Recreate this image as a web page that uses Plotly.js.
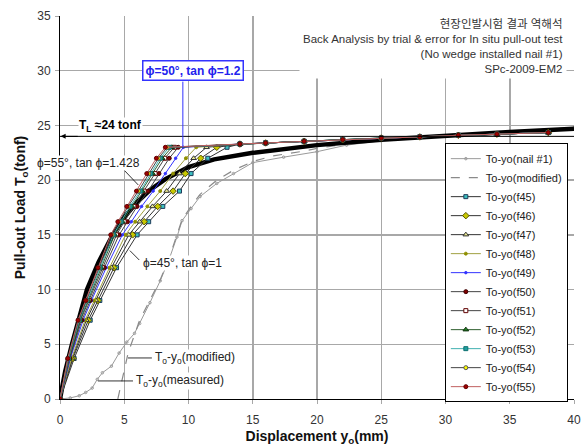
<!DOCTYPE html>
<html><head><meta charset="utf-8">
<script src="https://cdn.plot.ly/plotly-3.0.1.min.js"></script>
<style>body{margin:0;background:#fff}#chart{width:584px;height:446px}</style>
</head><body><div id="chart"></div><script>
// Load levels (tonf) at which the back-analysis curves are plotted
const loadLevels = [0, 3.7, 7.2, 9, 12, 15, 16.2, 17.6, 19, 20.6, 22, 23];
// displacement (mm) at each load level, per series
const f45 = [0, 1.1, 2.35, 3.1, 4.4, 6.0, 6.9, 8.0, 9.3, 10.2, 11.5, 13.0];
const f46 = [0, 1.0, 2.2, 2.95, 4.2, 5.65, 6.55, 7.6, 8.8, 9.75, 10.95, 12.2];
const f47 = [0, 0.95, 2.05, 2.8, 4.0, 5.35, 6.2, 7.2, 8.3, 9.3, 10.4, 11.4];
const f48 = [0, 0.9, 1.95, 2.65, 3.85, 5.1, 5.85, 6.8, 7.8, 8.8, 9.8, 10.6];
const f49 = [0, 0.8, 1.8, 2.45, 3.6, 4.85, 5.55, 6.35, 7.25, 8.2, 9.0, 9.6];
const f50 = [0, 0.75, 1.7, 2.35, 3.45, 4.6, 5.25, 6.0, 6.85, 7.7, 8.5, 9.2];
const f51 = [0, 0.7, 1.6, 2.25, 3.3, 4.4, 5.0, 5.75, 6.55, 7.4, 8.15, 8.9];
const f52 = [0, 0.68, 1.55, 2.18, 3.2, 4.25, 4.85, 5.6, 6.4, 7.2, 7.95, 8.7];
const f53 = [0, 0.65, 1.5, 2.1, 3.1, 4.15, 4.75, 5.45, 6.25, 7.05, 7.8, 8.5];
const f54 = [0, 0.62, 1.45, 2.05, 3.0, 4.05, 4.6, 5.3, 6.1, 6.9, 7.65, 8.35];
const f55 = [0, 0.6, 1.4, 2.0, 2.95, 3.95, 4.5, 5.2, 5.95, 6.75, 7.5, 8.2];
// common plateau after yield
const plateauX = [14, 16, 19, 22, 25, 28, 31, 34, 38];
const plateauT = [23.3, 23.4, 23.55, 23.7, 23.85, 23.95, 24.1, 24.2, 24.35];
// measured (nail #1)
const measX = [0, 0.8, 1.5, 2.0, 2.5, 2.9, 3.3, 4.0, 4.6, 5.2, 5.8, 6.2, 7.0, 7.8, 8.5, 9.1, 9.5, 10.2, 10.9, 12.2, 13.5, 15.0, 17.4, 20.0, 22.3, 25, 28, 31, 34, 37, 40];
const measT = [0, 0.1, 0.3, 0.6, 1.0, 1.8, 2.4, 3.0, 4.2, 5.2, 6.0, 6.9, 8.8, 10.8, 12.8, 14.8, 16.3, 17.4, 18.5, 19.7, 20.6, 21.6, 22.1, 22.6, 23.2, 23.6, 23.9, 24.1, 24.3, 24.5, 24.8];
// modified
const modX = [4.5, 5.3, 6.2, 7.0, 7.8, 8.5, 9.1, 9.5, 10.2, 10.9, 12.2, 13.5, 15.0, 16.5, 18.7, 20, 22.3, 25, 28, 31, 34, 37, 40];
const modT = [0, 4.2, 7.2, 9.0, 10.9, 12.9, 14.9, 16.4, 17.6, 18.7, 20.0, 20.9, 21.7, 22.2, 22.6, 22.9, 23.3, 23.7, 24.0, 24.2, 24.4, 24.6, 24.8];
// thick reference curve
const thickX = [0, 0.4, 0.93, 1.5, 2.1, 3.0, 4.1, 5.0, 6.0, 7.0, 8.2, 10, 12, 15, 20, 25, 30, 35, 40];
const thickT = [0, 2.5, 5, 7.5, 10, 12.5, 15, 16.6, 18, 19.1, 20.1, 21.2, 21.9, 22.5, 23.2, 23.7, 24.1, 24.4, 24.7];

const seriesNames = ['To-yo(f45)','To-yo(f46)','To-yo(f47)','To-yo(f48)','To-yo(f49)','To-yo(f50)','To-yo(f51)','To-yo(f52)','To-yo(f53)','To-yo(f54)','To-yo(f55)'];
const seriesData = [f45,f46,f47,f48,f49,f50,f51,f52,f53,f54,f55];
const styles = [
  {lc:'#333333', sym:'square', mc:'#3cc0c0', ml:'#1e3c5a', ms:4},
  {lc:'#333333', sym:'diamond', mc:'#c8c800', ml:'#555500', ms:5},
  {lc:'#333333', sym:'triangle-up', mc:'#e8e890', ml:'#333333', ms:5},
  {lc:'#a0a040', sym:'circle', mc:'#909000', ml:'#909000', ms:3},
  {lc:'#3333ff', sym:'circle', mc:'#3333ff', ml:'#3333ff', ms:2.5},
  {lc:'#444444', sym:'circle', mc:'#800000', ml:'#400000', ms:4},
  {lc:'#444444', sym:'square', mc:'#ffffff', ml:'#600000', ms:4},
  {lc:'#2f5f2f', sym:'triangle-up', mc:'#208020', ml:'#103010', ms:5},
  {lc:'#40b0b0', sym:'square', mc:'#20a0a0', ml:'#107070', ms:4},
  {lc:'#444444', sym:'circle', mc:'#ffff00', ml:'#555555', ms:4},
  {lc:'#c06060', sym:'circle', mc:'#a00000', ml:'#600000', ms:4}
];

const traces = [];
traces.push({x: measX, y: measT, name: 'To-yo(nail #1)', mode: 'lines+markers',
  line: {color: '#9a9a9a', width: 1}, marker: {symbol: 'circle-open', size: 2.5, color: '#9a9a9a'}});
traces.push({x: modX, y: modT, name: 'To-yo(modified)', mode: 'lines',
  line: {color: '#8a8a8a', width: 1.2, dash: 'dash'}});
traces.push({x: thickX, y: thickT, name: 'thick', mode: 'lines', showlegend: false,
  line: {color: '#000000', width: 4.5}});
seriesData.forEach((xs, i) => {
  const s = styles[i];
  traces.push({x: xs.concat(plateauX), y: loadLevels.concat(plateauT), name: seriesNames[i],
    mode: 'lines+markers', line: {color: s.lc, width: 1},
    marker: {symbol: s.sym, size: s.ms, color: s.mc, line: {color: s.ml, width: 1}}});
});

const F = 'Liberation Sans, Arial, sans-serif';
const layout = {
  width: 584, height: 446,
  margin: {l: 60, r: 10, t: 16, b: 47},
  paper_bgcolor: '#fff', plot_bgcolor: '#fff',
  font: {family: F, size: 12, color: '#333'},
  showlegend: true,
  legend: {x: 0.988, y: 0.668, xanchor: 'right', yanchor: 'top', bgcolor: '#fff',
    bordercolor: '#000', borderwidth: 1, font: {family: F, size: 11, color: '#222'},
    tracegroupgap: 0, itemwidth: 30},
  xaxis: {range: [0, 40], dtick: 5, showgrid: true, gridcolor: '#a8a8a8', gridwidth: 1.5,
    zeroline: false, showline: true, linecolor: '#000', linewidth: 1,
    ticks: 'outside', ticklen: 4, tickcolor: '#a8a8a8', ticklabelstandoff: 6,
    tickfont: {family: F, size: 12, color: '#333'},
    title: {text: '<b>Displacement y<sub>o</sub>(mm)</b>', standoff: 8, font: {family: F, size: 14, color: '#111'}}},
  yaxis: {range: [0, 35], dtick: 5, showgrid: true, gridcolor: '#a8a8a8', gridwidth: 1.5,
    zeroline: false, showline: true, linecolor: '#000', linewidth: 1,
    ticks: 'outside', ticklen: 4, tickcolor: '#a8a8a8', ticklabelstandoff: 2,
    tickfont: {family: F, size: 12, color: '#333'},
    title: {text: '<b>Pull-out Load T<sub>o</sub>(tonf)</b>', standoff: 8, font: {family: F, size: 14, color: '#111'}}},
  shapes: [
    {type: 'line', xref: 'x', yref: 'y', x0: 0, x1: 40, y0: 24, y1: 24, line: {color: '#000', width: 1}},
    {type: 'line', xref: 'x', yref: 'y', x0: 9.56, x1: 9.56, y0: 23.0, y1: 29.0, line: {color: '#3333ff', width: 1}},
    {type: 'line', xref: 'x', yref: 'y', x0: 5.0, x1: 6.09, y0: 20.9, y1: 19.56, line: {color: '#000', width: 0.8}},
    {type: 'line', xref: 'x', yref: 'y', x0: 5.44, x1: 6.17, y0: 13.56, y1: 12.7, line: {color: '#000', width: 0.8}},
    {type: 'line', xref: 'x', yref: 'y', x0: 5.29, x1: 7.15, y0: 3.75, y1: 3.75, line: {color: '#000', width: 0.8}},
    {type: 'line', xref: 'x', yref: 'y', x0: 2.95, x1: 5.68, y0: 1.65, y1: 1.65, line: {color: '#000', width: 0.8}}
  ],
  annotations: [
    {xref: 'x', yref: 'y', x: 39.42, y: 32.2, xanchor: 'right', yanchor: 'middle', align: 'right', showarrow: false,
     text: '현장인발시험 결과 역해석<br>Back Analysis by trial &amp; error for In situ pull-out test<br>(No wedge installed nail #1)<br>SPc-2009-EM2',
     font: {family: 'Liberation Sans, Noto Sans CJK KR, sans-serif', size: 11.5, color: '#333'}, bgcolor: '#fff', borderpad: 3},
    {xref: 'x', yref: 'y', x: 10.34, y: 30.0, showarrow: false,
     text: '<b>ϕ=50°, tan ϕ=1.2</b>', font: {family: F, size: 12, color: '#2222ee'},
     bgcolor: '#fff', bordercolor: '#3333ff', borderwidth: 1.5, borderpad: 2},
    {xref: 'x', yref: 'y', x: 3.9, y: 24.95, showarrow: false,
     text: '<b>T<sub>L</sub> ≈24 tonf</b>', font: {family: F, size: 12, color: '#000'}, bgcolor: '#fff', borderpad: 0},
    {xref: 'x', yref: 'y', x: 0.05, y: 24, ax: 1.5, ay: 24, axref: 'x', ayref: 'y', text: '', showarrow: true,
     arrowhead: 2, arrowsize: 1, arrowwidth: 1, arrowcolor: '#000'},
    {xref: 'x', yref: 'y', x: 2.18, y: 21.6, showarrow: false,
     text: 'ϕ=55°, tan ϕ=1.428', font: {family: F, size: 12, color: '#222'}, bgcolor: '#fff', borderpad: 0},
    {xref: 'x', yref: 'y', x: 9.56, y: 12.43, showarrow: false,
     text: 'ϕ=45°, tan ϕ=1', font: {family: F, size: 12, color: '#222'}, bgcolor: '#fff', borderpad: 0},
    {xref: 'x', yref: 'y', x: 7.3, y: 3.75, xanchor: 'left', showarrow: false,
     text: 'T<sub>o</sub>-y<sub>o</sub>(modified)', font: {family: F, size: 12, color: '#222'}, bgcolor: '#fff', borderpad: 0},
    {xref: 'x', yref: 'y', x: 5.8, y: 1.65, xanchor: 'left', showarrow: false,
     text: 'T<sub>o</sub>-y<sub>o</sub>(measured)', font: {family: F, size: 12, color: '#222'}, bgcolor: '#fff', borderpad: 0}
  ]
};
Plotly.newPlot('chart', traces, layout, {displayModeBar: false, staticPlot: true});
</script></body></html>
